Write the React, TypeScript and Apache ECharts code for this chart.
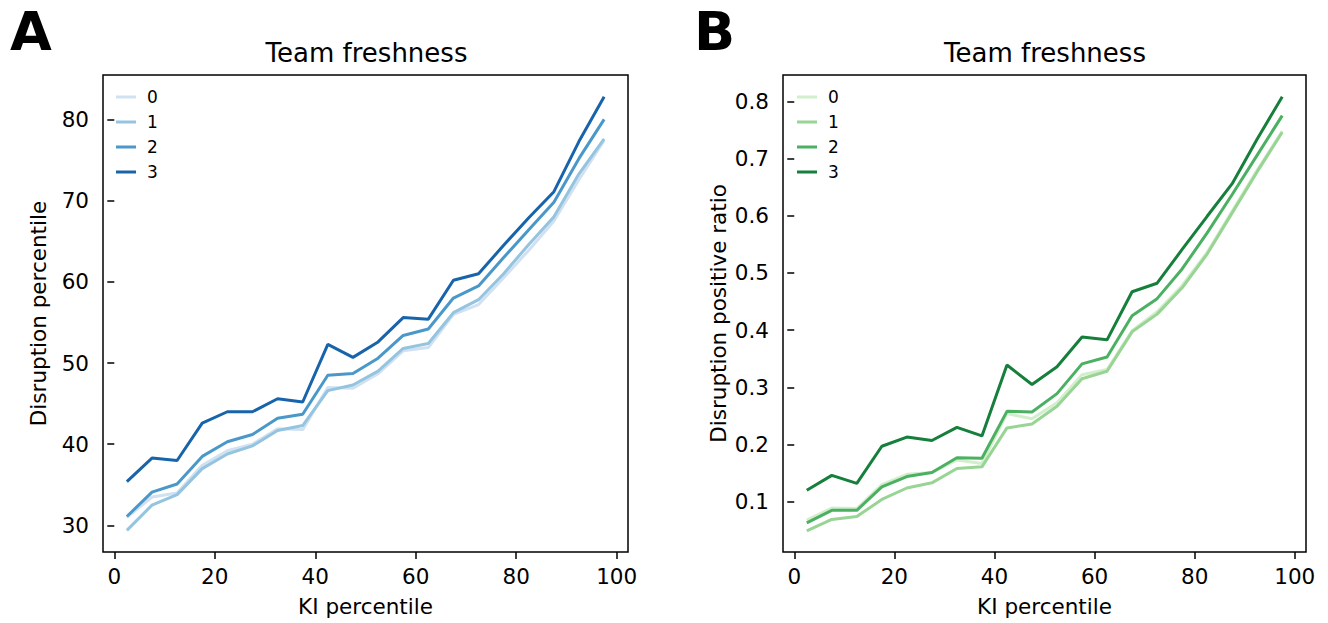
import React, { useEffect, useRef } from "react";
import * as echarts from "echarts";

const KI = [2.5, 7.5, 12.5, 17.5, 22.5, 27.5, 32.5, 37.5, 42.5, 47.5, 52.5, 57.5, 62.5, 67.5, 72.5, 77.5, 82.5, 87.5, 92.5, 97.5];

const groups = ["0", "1", "2", "3"];

// Panel A: Disruption percentile
const A0 = [31.0, 33.5, 34.0, 37.4, 39.2, 40.0, 41.9, 41.8, 47.0, 46.9, 48.7, 51.5, 51.9, 56.0, 57.2, 60.5, 63.9, 67.5, 72.6, 77.4];
const A1 = [29.4, 32.5, 33.8, 37.0, 38.8, 39.8, 41.7, 42.3, 46.6, 47.3, 49.0, 51.8, 52.4, 56.2, 57.8, 61.0, 64.6, 68.0, 73.3, 77.6];
const A2 = [31.1, 34.1, 35.1, 38.5, 40.3, 41.2, 43.2, 43.7, 48.5, 48.7, 50.6, 53.4, 54.2, 58.0, 59.5, 63.0, 66.4, 69.8, 75.2, 80.0];
const A3 = [35.4, 38.3, 38.0, 42.6, 44.0, 44.0, 45.6, 45.2, 52.3, 50.7, 52.6, 55.6, 55.4, 60.2, 61.0, 64.5, 67.9, 71.1, 77.3, 82.8];

// Panel B: Disruption positive ratio
const B0 = [0.068, 0.089, 0.088, 0.130, 0.148, 0.151, 0.173, 0.167, 0.254, 0.245, 0.273, 0.322, 0.331, 0.399, 0.432, 0.478, 0.536, 0.608, 0.680, 0.748];
const B1 = [0.049, 0.069, 0.074, 0.104, 0.124, 0.133, 0.158, 0.161, 0.229, 0.236, 0.267, 0.315, 0.328, 0.397, 0.428, 0.474, 0.533, 0.605, 0.677, 0.746];
const B2 = [0.063, 0.085, 0.085, 0.126, 0.144, 0.151, 0.177, 0.176, 0.258, 0.257, 0.289, 0.341, 0.353, 0.425, 0.455, 0.507, 0.570, 0.637, 0.706, 0.775];
const B3 = [0.120, 0.146, 0.132, 0.197, 0.213, 0.207, 0.230, 0.215, 0.339, 0.305, 0.336, 0.388, 0.383, 0.467, 0.482, 0.541, 0.599, 0.656, 0.734, 0.808];

const xTicks = [0, 20, 40, 60, 80, 100];
const yTicksA = [30, 40, 50, 60, 70, 80];
const yTicksB = [0.1, 0.2, 0.3, 0.4, 0.5, 0.6, 0.7, 0.8];

const BLUES = ["#d0e1f2", "#94c4df", "#4a98c9", "#1764ab"];
const GREENS = ["#d3eecd", "#98d594", "#4bb062", "#157f3b"];

const FONT = "DejaVu Sans";
const TICK_FS = 21.5;
const LABEL_FS = 21.5;

function xAxis(gridIndex: number) {
  return {
    type: "value",
    gridIndex,
    min: -2.25,
    max: 102.25,
    name: "KI percentile",
    nameLocation: "middle",
    nameGap: 43,
    nameTextStyle: { fontFamily: FONT, fontSize: LABEL_FS, color: "#000" },
    axisLine: { show: false },
    axisTick: { show: true, length: 7, customValues: xTicks, lineStyle: { color: "#000", width: 1.5 } },
    axisLabel: { customValues: xTicks, margin: 13, fontFamily: FONT, fontSize: TICK_FS, color: "#000" },
    splitLine: { show: false },
  };
}

function yAxis(gridIndex: number, min: number, max: number, ticks: number[], name: string) {
  return {
    type: "value",
    gridIndex,
    min,
    max,
    name,
    nameLocation: "middle",
    nameGap: 54,
    nameTextStyle: { fontFamily: FONT, fontSize: LABEL_FS, color: "#000" },
    axisLine: { show: false },
    axisTick: { show: true, length: 7, customValues: ticks, lineStyle: { color: "#000", width: 1.5 } },
    axisLabel: { customValues: ticks, margin: 14, fontFamily: FONT, fontSize: TICK_FS, color: "#000" },
    splitLine: { show: false },
  };
}

function lineSeries(prefix: string, idx: number, values: number[], color: string) {
  return {
    type: "line",
    name: prefix + groups[idx],
    xAxisIndex: prefix === "A" ? 0 : 1,
    yAxisIndex: prefix === "A" ? 0 : 1,
    data: KI.map((k, i) => [k, values[i]]),
    showSymbol: false,
    symbol: "none",
    color,
    lineStyle: { width: 3, color },
    z: 2 + idx,
  };
}

function legend(prefix: string, left: number) {
  return {
    orient: "vertical",
    left,
    top: 88.5,
    padding: 0,
    itemGap: 8,
    itemWidth: 20,
    itemHeight: 3,
    icon: "rect",
    data: groups.map((g) => prefix + g),
    formatter: (n: string) => n.slice(1),
    textStyle: { fontFamily: FONT, fontSize: 17, color: "#000", lineHeight: 17, padding: [0, 0, 0, 6] },
    selectedMode: false,
  };
}

export default function App() {
  const ref = useRef<HTMLDivElement>(null);
  useEffect(() => {
    if (!ref.current) return;
    const chart = echarts.init(ref.current, undefined, { renderer: "svg" });
    const gridBase = { top: 75, height: 477, show: true, borderColor: "#000", borderWidth: 1.5, backgroundColor: "transparent" };
    chart.setOption({
      animation: false,
      backgroundColor: "#fff",
      title: [
        { text: "A", left: 5, top: -1, textStyle: { fontFamily: FONT, fontSize: 54, fontWeight: "bold", color: "#000" } },
        { text: "B", left: 689, top: -1, textStyle: { fontFamily: FONT, fontSize: 54, fontWeight: "bold", color: "#000" } },
        { text: "Team freshness", left: 361.5, top: 35, textAlign: "center", textStyle: { fontFamily: FONT, fontSize: 26, fontWeight: "normal", color: "#000" } },
        { text: "Team freshness", left: 1040, top: 35, textAlign: "center", textStyle: { fontFamily: FONT, fontSize: 26, fontWeight: "normal", color: "#000" } },
      ],
      grid: [
        { ...gridBase, left: 103, width: 525 },
        { ...gridBase, left: 783, width: 523 },
      ],
      xAxis: [xAxis(0), xAxis(1)],
      yAxis: [
        yAxis(0, 26.73, 85.47, yTicksA, "Disruption percentile"),
        yAxis(1, 0.0121, 0.846, yTicksB, "Disruption positive ratio"),
      ],
      legend: [legend("A", 116), legend("B", 797)],
      series: [
        lineSeries("A", 0, A0, BLUES[0]),
        lineSeries("A", 1, A1, BLUES[1]),
        lineSeries("A", 2, A2, BLUES[2]),
        lineSeries("A", 3, A3, BLUES[3]),
        lineSeries("B", 0, B0, GREENS[0]),
        lineSeries("B", 1, B1, GREENS[1]),
        lineSeries("B", 2, B2, GREENS[2]),
        lineSeries("B", 3, B3, GREENS[3]),
      ],
    });
    return () => chart.dispose();
  }, []);
  return (
    <div
      ref={ref}
      style={{ position: "absolute", left: 0, top: 0, width: 1328, height: 623, background: "#fff" }}
    />
  );
}
